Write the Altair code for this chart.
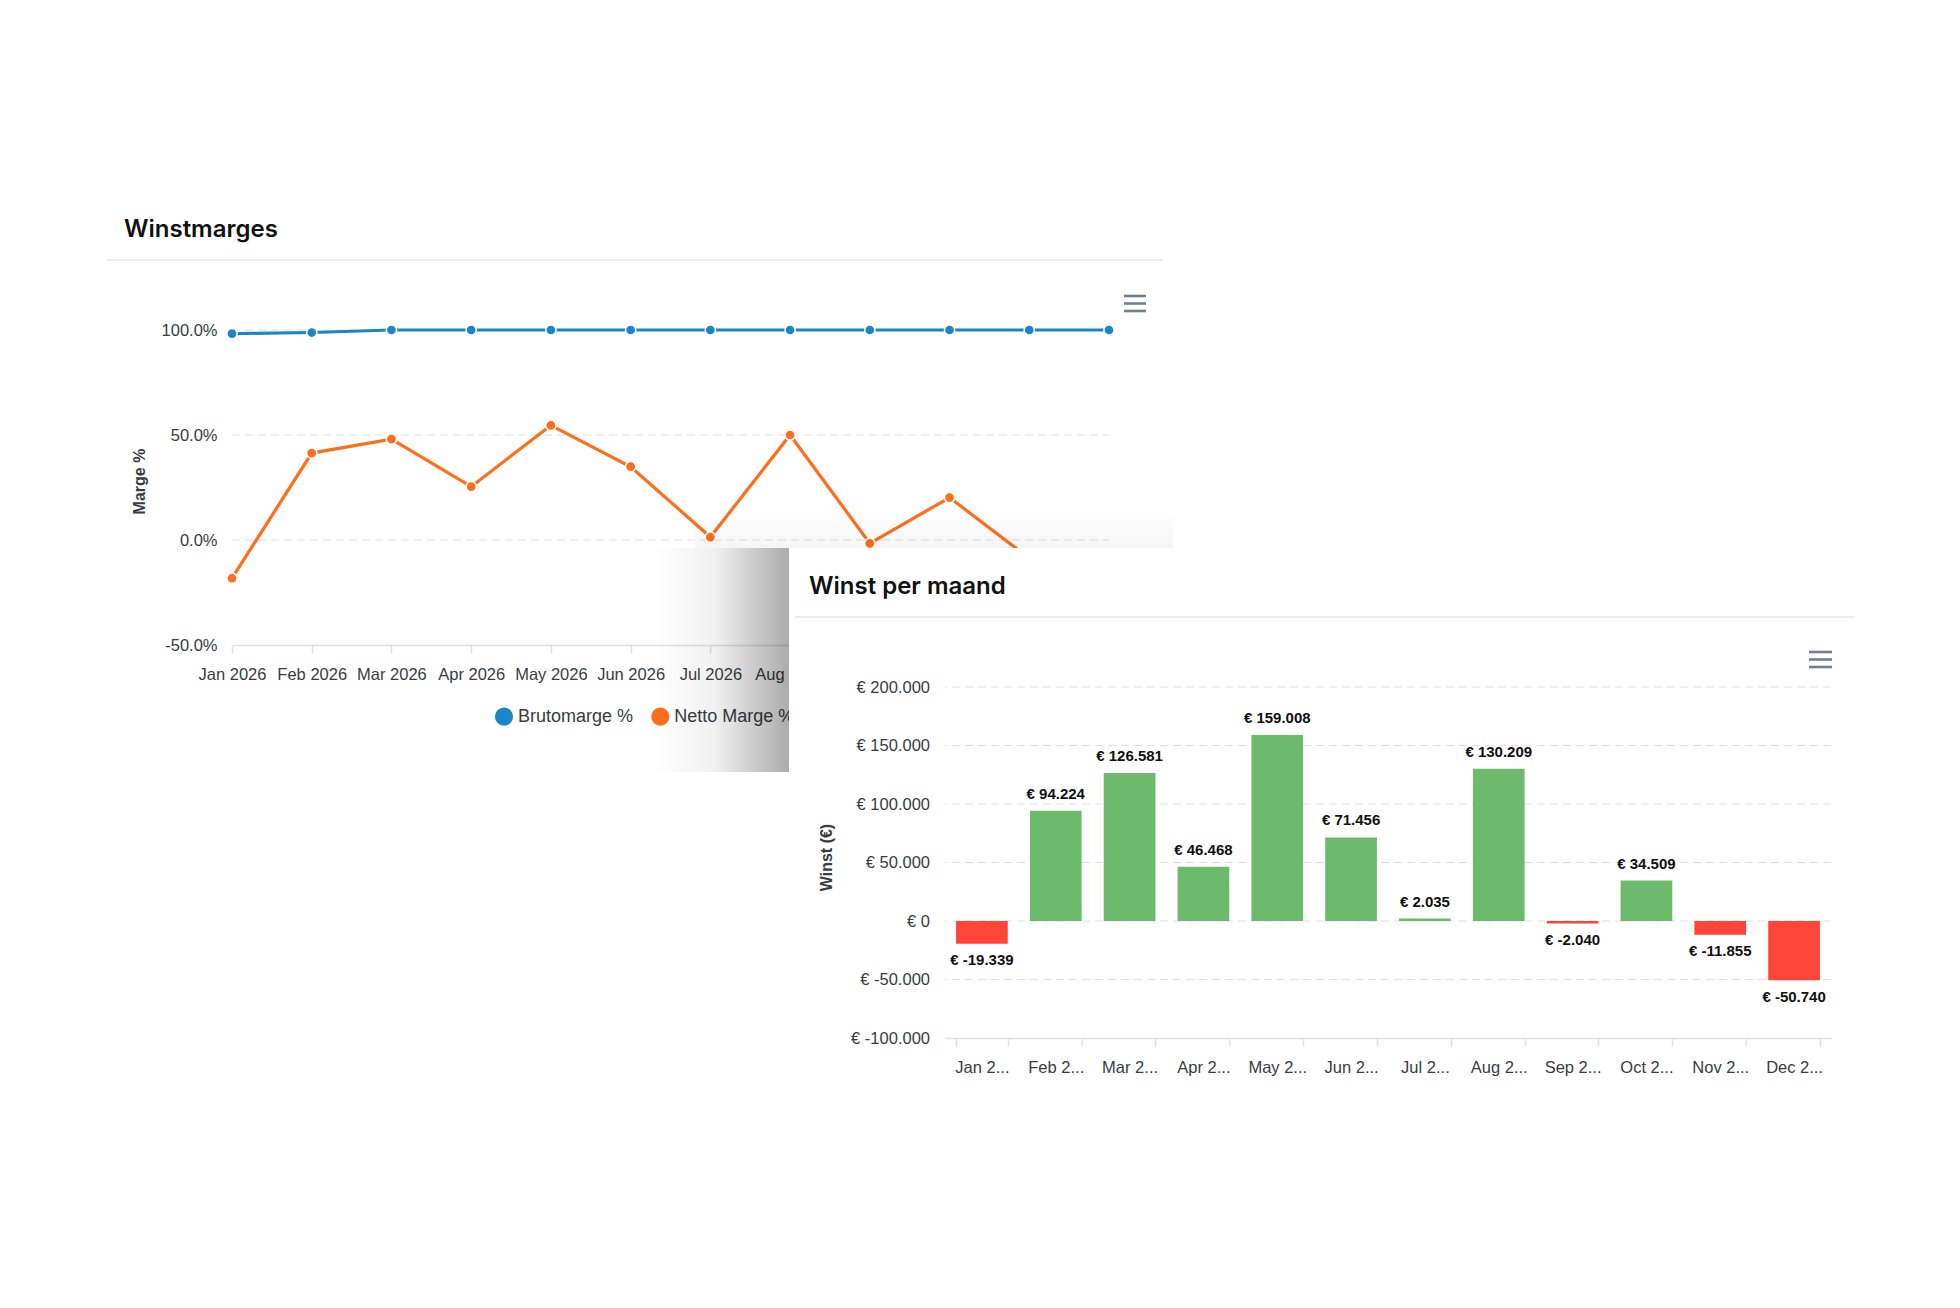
import altair as alt
import pandas as pd

months = ["Jan 2026", "Feb 2026", "Mar 2026", "Apr 2026", "May 2026", "Jun 2026",
          "Jul 2026", "Aug 2026", "Sep 2026", "Oct 2026", "Nov 2026", "Dec 2026"]
brutomarge = [98.3, 98.8, 100.0, 100.0, 100.0, 100.0, 100.0, 100.0, 100.0, 100.0, 100.0, 100.0]
nettomarge = [-18.2, 41.4, 48.0, 25.4, 54.6, 34.9, 1.4, 50.0, -1.6, 20.2, -8.7, -35.0]
winst = [-19339, 94224, 126581, 46468, 159008, 71456, 2035, 130209, -2040, 34509, -11855, -50740]

series = ["Brutomarge %", "Netto Marge %"]
series_colors = ["#1a86c8", "#ff6e1a"]
marge_ticks = [-50, 0, 50, 100]
marge_grid = [0, 50, 100]
winst_ticks = [-100000, -50000, 0, 50000, 100000, 150000, 200000]
winst_grid = [-50000, 0, 50000, 100000, 150000, 200000]

LABEL_FONT = "Liberation Sans"
TITLE_FONT = "Inter"
TEXT = "#373d3f"
GRID = "#e0e0e0"
GREEN = "#6cbb6c"
RED = "#ff4538"
MINUS = "\u2212"

marge_df = pd.DataFrame({
    "maand": months * 2,
    "reeks": [series[0]] * 12 + [series[1]] * 12,
    "marge": brutomarge + nettomarge,
})
winst_df = pd.DataFrame({
    "maand": months,
    "winst": winst,
    "label": [f"€ {v:,}".replace(",", ".") for v in winst],
})
one = pd.DataFrame({"t": [0]})


def header(title, title_x, rule_x1, rule_x2, menu_x1, menu_x2, menu_y):
    """card header: title, divider line and the menu icon (pixel offsets)"""
    parts = [
        alt.Chart(one).mark_text(align="left", baseline="alphabetic", font=TITLE_FONT,
                                 fontSize=24, fontWeight=600, color="#111111").encode(
            x=alt.value(title_x), y=alt.value(-93), text=alt.value(title)),
        alt.Chart(one).mark_rule(color="#e6e6e6", strokeWidth=1.5).encode(
            x=alt.value(rule_x1), x2=alt.value(rule_x2), y=alt.value(-70)),
    ]
    for dy in (0, 7.5, 15):
        parts.append(alt.Chart(one).mark_rule(color="#6e7f8f", strokeWidth=2.6).encode(
            x=alt.value(menu_x1), x2=alt.value(menu_x2), y=alt.value(menu_y + dy)))
    return parts


def legend_item(name, color, x, y):
    """round swatch + label, drawn in the card so card 2 can cover it"""
    swatch = alt.Chart(one).mark_circle(size=330, opacity=1, color=color).encode(
        x=alt.value(x), y=alt.value(y))
    label = alt.Chart(one).mark_text(align="left", baseline="middle", font=LABEL_FONT,
                                     fontSize=18, color=TEXT).encode(
        x=alt.value(x + 14), y=alt.value(y + 0.5), text=alt.value(name))
    return [swatch, label]


# --- card 1: Winstmarges ---
# the view is only as wide as the part left of card 2; the x range runs on under it
m_scale = alt.Scale(type="point", padding=0, domain=months, range=[0, 877])
m_axis = alt.Axis(title=None, labelAngle=0, labelFont=LABEL_FONT, labelFontSize=16.5,
                  labelColor=TEXT, labelPadding=13.5, tickSize=8, tickColor=GRID,
                  tickWidth=1.5, domainColor=GRID, domainWidth=1.5, grid=False)
m_x = alt.X("maand:N", scale=m_scale, axis=m_axis)
m_y = alt.Y("marge:Q", scale=alt.Scale(domain=[-50, 100], nice=False),
            axis=alt.Axis(title="Marge %", values=marge_ticks,
                          labelExpr=f"replace(format(datum.value, '.1f'), '{MINUS}', '-') + '%'",
                          labelFont=LABEL_FONT, labelFontSize=16.5, labelColor=TEXT,
                          labelPadding=15, ticks=False, tickSize=0, domain=False, grid=False,
                          titleFont=LABEL_FONT, titleFontSize=16, titleFontWeight="bold",
                          titleColor=TEXT, titleX=-93, titleY=151, titleBaseline="middle"))
m_color = alt.Color("reeks:N", scale=alt.Scale(domain=series, range=series_colors), legend=None)

# invisible card outline, it fixes the top-left corner of the page layout
card1_bg = alt.Chart(one).mark_rect(color="white", opacity=0).encode(
    x=alt.value(-125), x2=alt.value(941), y=alt.value(-180), y2=alt.value(442))

marge_gridlines = alt.Chart(pd.DataFrame({"marge": marge_grid})).mark_rule(
    color=GRID, strokeDash=[8, 5], strokeWidth=1.2).encode(
    y=m_y,
    x=alt.X(datum=months[0], type="nominal", scale=m_scale, axis=m_axis),
    x2=alt.X2(datum=months[-1]),
)

lines = alt.Chart(marge_df).mark_line(strokeWidth=3.2).encode(x=m_x, y=m_y, color=m_color)
dots = alt.Chart(marge_df).mark_circle(size=105, opacity=1, stroke="white", strokeWidth=1.5).encode(
    x=m_x, y=m_y, color=m_color)

card1 = alt.layer(
    card1_bg,
    *header("Winstmarges", -108, -125, 931, 892, 914, -34),
    marge_gridlines, lines, dots,
    *legend_item(series[0], series_colors[0], 272, 386.7),
    *legend_item(series[1], series_colors[1], 428.3, 386.7),
).properties(width=713, height=315)

# --- card 2: Winst per maand ---
w_x = alt.X("maand:N", sort=months, scale=alt.Scale(paddingInner=0.3, paddingOuter=0.15),
            axis=alt.Axis(title=None, labelAngle=0,
                          labelExpr="datum.label ? slice(datum.label, 0, 5) + '...' : ''",
                          labelFont=LABEL_FONT, labelFontSize=16.5, labelColor=TEXT,
                          labelPadding=13.5, tickBand="extent", tickSize=8, tickColor=GRID,
                          tickWidth=1.5, domainColor=GRID, domainWidth=1.5, grid=False, zindex=1))
w_y = alt.Y("winst:Q", scale=alt.Scale(domain=[-100000, 200000], nice=False, zero=False),
            axis=alt.Axis(title="Winst (€)", values=winst_ticks,
                          labelExpr=f"'€ ' + replace(replace(format(datum.value, ','), ',', '.'), '{MINUS}', '-')",
                          labelFont=LABEL_FONT, labelFontSize=16.5, labelColor=TEXT,
                          labelPadding=15.5, ticks=False, tickSize=0, domain=False, grid=False,
                          titleFont=LABEL_FONT, titleFontSize=16, titleFontWeight="bold",
                          titleColor=TEXT, titleX=-119, titleY=170, titleBaseline="middle",
                          zindex=1))

side_shadow = alt.Chart(one).mark_rect(color=alt.LinearGradient(
    gradient="linear", x1=0, y1=0, x2=1, y2=0,
    stops=[alt.GradientStop(color="rgba(0,0,0,0)", offset=0),
           alt.GradientStop(color="rgba(0,0,0,0.06)", offset=0.45),
           alt.GradientStop(color="rgba(0,0,0,0.33)", offset=1)])).encode(
    x=alt.value(-290), x2=alt.value(-156), y=alt.value(-139), y2=alt.value(85))
top_shadow = alt.Chart(one).mark_rect(color=alt.LinearGradient(
    gradient="linear", x1=0, y1=0, x2=0, y2=1,
    stops=[alt.GradientStop(color="rgba(0,0,0,0)", offset=0),
           alt.GradientStop(color="rgba(0,0,0,0.04)", offset=1)])).encode(
    x=alt.value(-250), x2=alt.value(228), y=alt.value(-175), y2=alt.value(-139))
card2_bg = alt.Chart(one).mark_rect(color="white", cornerRadius=7).encode(
    x=alt.value(-156), x2=alt.value(910), y=alt.value(-139), y2=alt.value(433))

grid = alt.Chart(pd.DataFrame({"winst": winst_grid})).mark_rule(
    color=GRID, strokeDash=[8, 5], strokeWidth=1.2).encode(y=w_y)

bars = alt.Chart(winst_df).mark_bar().encode(
    x=w_x, y=w_y,
    color=alt.condition(alt.datum.winst >= 0, alt.value(GREEN), alt.value(RED)),
)
labels_pos = alt.Chart(winst_df).transform_filter(alt.datum.winst >= 0).mark_text(
    baseline="middle", dy=-17, font=LABEL_FONT, fontSize=15, fontWeight="bold", color="#111111"
).encode(x=w_x, y=w_y, text="label:N")
labels_neg = alt.Chart(winst_df).transform_filter(alt.datum.winst < 0).mark_text(
    baseline="middle", dy=16.5, font=LABEL_FONT, fontSize=15, fontWeight="bold", color="#111111"
).encode(x=w_x, y=w_y, text="label:N")

card2 = alt.layer(
    side_shadow, top_shadow, card2_bg,
    *header("Winst per maand", -136, -150, 910, 864, 887, -35),
    grid, bars, labels_pos, labels_neg,
).properties(width=886, height=351)

spacer = alt.Chart(one).mark_point(opacity=0).encode(
    x=alt.value(0), y=alt.value(0)).properties(width=1, height=357)

right_col = alt.vconcat(spacer, card2, spacing=0, bounds="flush")

chart = alt.hconcat(card1, right_col, spacing=0, bounds="flush").properties(
    padding={"left": 98, "top": 142, "right": 10, "bottom": 10},
    background="white",
).configure_view(strokeWidth=0)

chart.save("out.html", embed_options={"renderer": "svg", "actions": False})
